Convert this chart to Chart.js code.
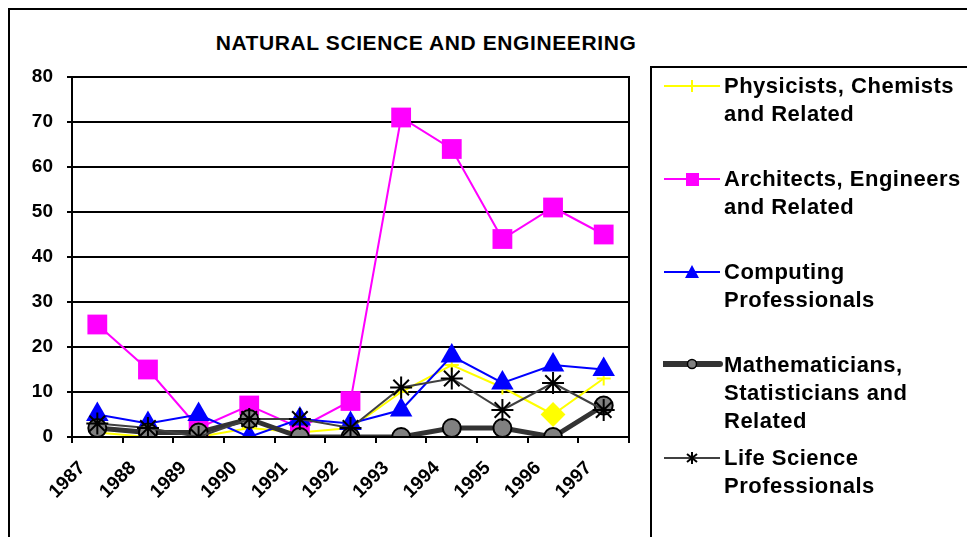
<!DOCTYPE html>
<html>
<head>
<meta charset="utf-8">
<script src="https://cdn.jsdelivr.net/npm/chart.js@4"></script>
<style>
    html, body { margin: 0; padding: 0; background: #fff; overflow: hidden; }
    body { width: 967px; height: 537px; position: relative; font-family: "Liberation Sans", Arial, sans-serif; }
    #frame { position: absolute; left: 8px; top: 8px; width: 1100px; height: 700px; border: 2px solid #000; box-sizing: border-box; }
    #title { position: absolute; left: 0; width: 852px; top: 31px; text-align: center; font-weight: bold; font-size: 21px; letter-spacing: 0.6px; color: #000; }
    #chartWrap { position: absolute; left: 0; top: 0; width: 967px; height: 537px; }
    #legendBox { position: absolute; left: 650px; top: 66px; width: 500px; height: 600px; border: 2px solid #000; box-sizing: border-box; }
    .legend-item { position: absolute; left: 0; }
    .legend-item svg { position: absolute; left: 11px; top: 0; }
    .legend-item .txt { position: absolute; left: 72px; top: 0; width: 300px; font-weight: bold; font-size: 22px; letter-spacing: 0.5px; line-height: 28px; color: #000; }
</style>
</head>
<body>
<div id="frame"></div>
<div id="title">NATURAL SCIENCE AND ENGINEERING</div>
<div id="chartWrap"><canvas id="natSciChart" width="967" height="537"></canvas></div>
<div id="legendBox"></div>

<script>
// categories and series
const years = ['1987', '1988', '1989', '1990', '1991', '1992', '1993', '1994', '1995', '1996', '1997'];
const physicists = [1, 0, 0, 2, 1, 2, 10, 16, 11, 5, 13];
const architects = [25, 15, 2, 7, 2, 8, 71, 64, 44, 51, 45];
const computing = [5, 3, 5, 0, 4, 3, 6, 18, 12, 16, 15];
const mathematicians = [2, 1, 1, 4, 0, 0, 0, 2, 2, 0, 7];
const lifeScience = [3, 2, 0, 4, 4, 2, 11, 13, 6, 12, 6];
const yTicks = [0, 10, 20, 30, 40, 50, 60, 70, 80];

const seriesNames = [
    ['Physicists, Chemists', 'and Related'],
    ['Architects, Engineers', 'and Related'],
    ['Computing', 'Professionals'],
    ['Mathematicians,', 'Statisticians and', 'Related'],
    ['Life Science', 'Professionals']
];

const datasets = [
    {
        label: seriesNames[0].join(' '),
        data: physicists,
        borderColor: '#FFFF00',
        backgroundColor: '#FFFF00',
        borderWidth: 2,
        pointStyle: physicists.map((v, i) => years[i] === '1996' ? 'rectRot' : 'cross'),
        pointRadius: physicists.map((v, i) => years[i] === '1996' ? 11 : 7),
        pointBorderWidth: 2,
        order: 4
    },
    {
        label: seriesNames[1].join(' '),
        data: architects,
        borderColor: '#FF00FF',
        backgroundColor: '#FF00FF',
        borderWidth: 2,
        pointStyle: 'rect',
        pointRadius: 14,
        pointBorderWidth: 0,
        order: 3
    },
    {
        label: seriesNames[2].join(' '),
        data: computing,
        borderColor: '#0000FF',
        backgroundColor: '#0000FF',
        borderWidth: 2,
        pointStyle: 'triangle',
        pointRadius: 13,
        pointBorderWidth: 0,
        order: 2
    },
    {
        label: seriesNames[3].join(' '),
        data: mathematicians,
        borderColor: '#333333',
        backgroundColor: '#808080',
        borderWidth: 5,
        pointStyle: 'circle',
        pointRadius: 9,
        pointBorderColor: '#000000',
        pointBorderWidth: 2,
        order: 1
    },
    {
        label: seriesNames[4].join(' '),
        data: lifeScience,
        borderColor: '#404040',
        backgroundColor: '#000000',
        borderWidth: 2,
        pointStyle: 'star',
        pointRadius: 11,
        pointBorderColor: '#000000',
        pointBorderWidth: 2,
        order: 0
    }
];

// black frame around the plot area
const plotFrame = {
    id: 'plotFrame',
    afterDraw(chart) {
        const a = chart.chartArea;
        const ctx = chart.ctx;
        ctx.save();
        ctx.strokeStyle = '#000';
        ctx.lineWidth = 2;
        ctx.strokeRect(a.left, a.top, a.right - a.left, a.bottom - a.top);
        ctx.restore();
    }
};

const tickFont = { family: '"Liberation Sans", Arial, sans-serif', size: 19, weight: 'bold' };

new Chart(document.getElementById('natSciChart'), {
    type: 'line',
    data: { labels: years, datasets: datasets },
    options: {
        responsive: false,
        animation: false,
        layout: { padding: { top: 77, right: 338, bottom: 0, left: 0 } },
        plugins: {
            legend: { display: false },
            title: { display: false },
            tooltip: { enabled: false }
        },
        elements: { line: { tension: 0 } },
        scales: {
            x: {
                offset: true,
                grid: {
                    offset: true,
                    drawOnChartArea: false,
                    drawTicks: true,
                    tickLength: 6,
                    color: '#000',
                    lineWidth: 2
                },
                border: { display: true, color: '#000', width: 2 },
                ticks: {
                    color: '#000',
                    font: tickFont,
                    maxRotation: 45,
                    minRotation: 45,
                    autoSkip: false,
                    padding: 14,
                    labelOffset: -15
                },
                afterFit(scale) { scale.height = 100; }
            },
            y: {
                min: yTicks[0],
                max: yTicks[yTicks.length - 1],
                afterBuildTicks(scale) { scale.ticks = yTicks.map(v => ({ value: v })); },
                grid: {
                    color: '#000',
                    lineWidth: 2,
                    drawTicks: true,
                    tickLength: 5
                },
                border: { display: true, color: '#000', width: 2 },
                ticks: {
                    color: '#000',
                    font: tickFont,
                    padding: 14
                },
                afterFit(scale) { scale.width = 72; }
            }
        }
    },
    plugins: [plotFrame]
});

// legend, built from the dataset styles
function legendSymbol(ds, idx) {
    const cy = 14;
    const lw = idx === 3 ? 6 : 2;
    const cap = idx === 3 ? 'round' : 'butt';
    let marker = '';
    if (idx === 0) {
        marker = `<line x1="29" y1="${cy - 6}" x2="29" y2="${cy + 6}" stroke="${ds.borderColor}" stroke-width="2"/>`;
    } else if (idx === 1) {
        marker = `<rect x="23" y="${cy - 6}" width="13" height="13" fill="${ds.backgroundColor}"/>`;
    } else if (idx === 2) {
        marker = `<polygon points="29,${cy - 7} 36,${cy + 6} 22,${cy + 6}" fill="${ds.backgroundColor}"/>`;
    } else if (idx === 3) {
        marker = `<circle cx="29" cy="${cy - 1}" r="4.5" fill="#808080" stroke="#000" stroke-width="1.5"/>`;
    } else {
        marker = `<g stroke="#000" stroke-width="2"><line x1="29" y1="${cy - 6}" x2="29" y2="${cy + 6}"/>` +
                 `<line x1="24" y1="${cy - 4}" x2="34" y2="${cy + 4}"/><line x1="34" y1="${cy - 4}" x2="24" y2="${cy + 4}"/></g>`;
    }
    const ly = idx === 3 ? cy - 1 : cy;
    return `<svg width="60" height="28"><line x1="1" y1="${ly}" x2="57" y2="${ly}" stroke="${ds.borderColor}" stroke-width="${lw}" stroke-linecap="${cap}"/>${marker}</svg>`;
}

const legendBox = document.getElementById('legendBox');
datasets.forEach((ds, i) => {
    const item = document.createElement('div');
    item.className = 'legend-item';
    item.style.top = (4 + i * 93) + 'px';
    item.innerHTML = legendSymbol(ds, i) + `<div class="txt">${seriesNames[i].join('<br>')}</div>`;
    legendBox.appendChild(item);
});
</script>
</body>
</html>
